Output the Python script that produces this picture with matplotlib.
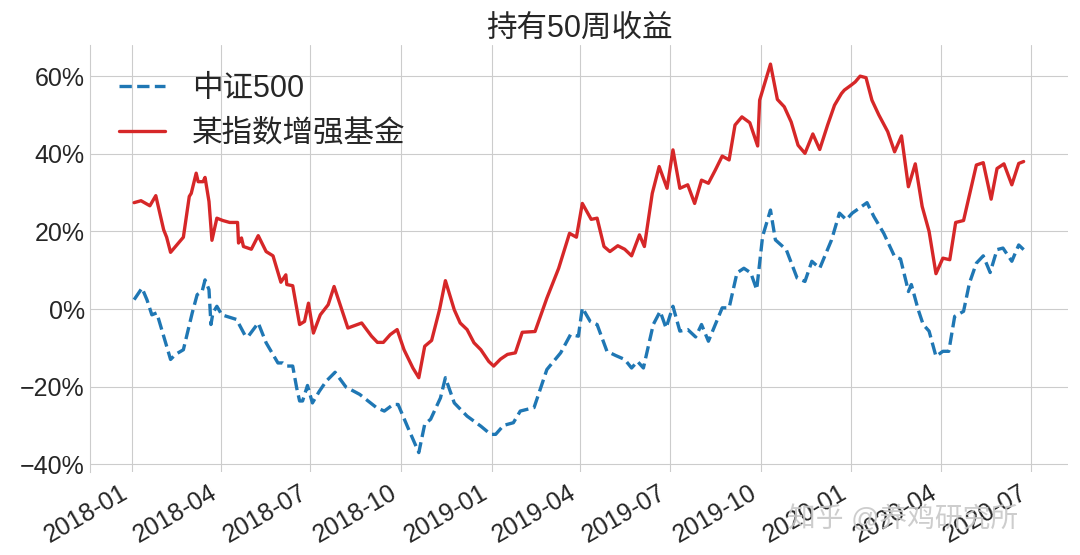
import matplotlib
matplotlib.use("Agg")
import matplotlib.pyplot as plt
import matplotlib.dates as mdates
from matplotlib.ticker import FuncFormatter
import pandas as pd
import seaborn as sns

sns.set_style("whitegrid")
plt.rcParams['font.family'] = ['Liberation Sans', 'Noto Sans CJK SC', 'DejaVu Sans']
plt.rcParams['axes.unicode_minus'] = True

start = pd.Timestamp("2018-01-01")

# 中证500 (days after 2018-01-01, 50-week return in %)
csi_days = [2, 10, 15, 20, 25, 39, 44, 52, 61, 66, 71, 74, 78, 80, 82, 86, 91, 106, 115, 118,
            128, 136, 148, 153, 157, 163, 167, 170, 173, 178, 183, 190, 197, 206, 217, 231,
            248, 256, 265, 270, 280, 291, 297, 303, 313, 318, 327, 340, 354, 364, 369, 377, 387, 394, 408, 421,
            435, 445, 453, 457, 465, 472,
            482, 491, 500, 507, 513, 519, 529, 536, 542, 549, 556, 564, 572, 578, 585, 599, 606, 614, 621, 628,
            634, 640, 648, 653, 664, 675, 683, 690, 698, 710, 718,
            725, 731, 746, 753, 763, 774, 780, 786, 788, 791, 798, 803, 809, 816, 823, 829, 835, 844, 850, 857,
            864, 871, 878, 884, 893, 900, 905]
csi_ret = [2.4, 5.4, 2.4, -1.5, -1.0, -13.0, -11.7, -10.5, -1.0, 3.7, 4.5, 7.5, 5.0, -4.0, -1.0, 0.7, -1.5, -2.7, -7.0, -7.0,
           -3.6, -8.7, -13.9, -13.9, -14.7, -14.7, -20.3, -23.7, -23.7, -19.7, -24.2, -21.2, -18.6, -16.3, -20.1, -22.0,
           -25.4, -26.3, -24.6, -24.6, -30.6, -37.0, -29.7, -28.4, -22.9, -17.7, -24.2, -27.6, -30.2, -32.3, -32.3, -30.0, -29.3, -26.3, -25.4, -15.6,
           -11.3, -6.6, -7.0, 0.3, -3.2, -4.0,
           -10.9, -12.0, -13.0, -15.2, -13.5, -15.2, -4.0, -0.6, -4.9, 0.7, -5.7, -5.3, -7.2, -4.0, -8.3, 0.3, 0.3, 9.3, 10.5, 9.3,
           5.0, 18.7, 25.5, 17.8, 15.3, 8.0, 7.1, 12.3, 10.5, 17.8, 24.7,
           23.0, 24.7, 27.4, 23.8, 19.5, 13.5, 12.9, 6.7, 4.5, 6.3, -0.2, -4.0, -5.7, -12.2, -10.9, -10.9, -1.9, -0.6, 6.7, 11.8,
           13.7, 9.4, 15.3, 15.7, 12.3, 16.5, 15.3]

# 某指数增强基金
fund_days = [2, 9, 18, 24, 32, 35, 39, 52, 58, 60, 65, 67, 72, 74, 78, 81, 86, 92, 99, 107,
             108, 111, 113, 121, 128, 136, 143, 151, 156, 157, 163, 170, 175, 179, 184, 191, 199, 205, 219, 233,
             243, 249, 255, 262, 269, 276, 285, 291, 297, 304, 312, 318, 327, 333, 340, 347, 354, 362, 367, 374,
             381, 389, 396, 409, 421, 433, 444, 451, 457, 466, 472, 479,
             485, 493, 500, 507, 515, 520, 528, 535, 543, 549, 556, 564, 571, 578, 585, 592, 599, 606, 612, 619,
             627, 635, 637, 648, 655, 662, 669, 676, 683, 691, 698, 706, 713, 720,
             723, 730, 734, 739, 745, 751, 758, 767, 774, 781, 788, 795, 802, 809, 816, 823, 830, 836, 844, 857,
             864, 872, 878, 885, 893, 900, 905]
fund_ret = [27.4, 27.9, 26.6, 29.2, 20.4, 18.5, 14.6, 18.5, 29.0, 29.8, 35.0, 32.8, 32.8, 33.9, 27.7, 17.7, 23.4, 22.8, 22.3, 22.3,
            17.0, 18.3, 16.1, 15.4, 18.9, 14.8, 13.7, 6.9, 8.8, 6.3, 6.0, -4.0, -3.2, 1.5, -6.2, -1.5, 1.1, 5.8, -4.9, -3.6,
            -7.0, -8.6, -8.6, -6.6, -5.3, -10.5, -15.2, -17.7, -9.6, -8.1, -0.2, 7.3, -0.2, -3.6, -5.3, -8.7, -10.5, -13.5, -14.7, -12.9,
            -11.7, -11.3, -6.0, -5.8, 2.8, 10.5, 19.5, 18.5, 27.2, 23.1, 23.4, 16.1,
            14.8, 16.3, 15.4, 13.7, 19.1, 16.1, 29.8, 36.7, 31.1, 41.0, 31.1, 32.0, 27.2, 33.2, 32.4, 35.8, 39.4, 38.4, 47.4, 49.5,
            48.0, 42.0, 53.8, 63.1, 54.0, 52.1, 48.2, 42.2, 40.1, 45.1, 41.1, 47.4, 52.5, 55.5,
            56.4, 57.7, 58.5, 60.0, 59.6, 53.8, 50.0, 45.7, 40.5, 44.6, 31.5, 37.4, 26.4, 20.0, 9.1, 13.1, 12.7, 22.3, 22.8, 37.1,
            37.7, 28.3, 36.2, 37.4, 32.0, 37.5, 38.0]

csi_dates = start + pd.to_timedelta(csi_days, unit="D")
fund_dates = start + pd.to_timedelta(fund_days, unit="D")

fig = plt.figure(figsize=(10.8, 5.55), dpi=100)
ax = fig.add_axes([0.083, 0.1495, 0.906, 0.77])

ax.plot(csi_dates, [v / 100 for v in csi_ret], color="#1f77b4", lw=2.4, ls="--", label="中证500")
ax.plot(fund_dates, [v / 100 for v in fund_ret], color="#d62728", lw=2.4, label="某指数增强基金")

ax.xaxis.set_major_locator(mdates.MonthLocator(bymonth=[1, 4, 7, 10]))
ax.xaxis.set_major_formatter(mdates.DateFormatter("%Y-%m"))
ax.yaxis.set_major_formatter(FuncFormatter(lambda v, p: "{:.0f}%".format(v * 100).replace("-", "\u2212")))
ax.set_yticks([-0.4, -0.2, 0, 0.2, 0.4, 0.6])

for lab in ax.get_xticklabels():
    lab.set_rotation(30)
    lab.set_ha("right")
ax.tick_params(axis="both", labelsize=18, colors=".15", length=0)
ax.tick_params(axis="x", pad=6)

for s in ["top", "right", "bottom"]:
    ax.spines[s].set_visible(False)
ax.spines["left"].set_color(".8")

ax.set_title("持有50周收益", fontsize=22, color=".15", pad=6)
ax.legend(loc="upper left", fontsize=22, frameon=False, handlelength=1.5, handletextpad=0.9,
          borderaxespad=0.55, labelspacing=0.5, bbox_to_anchor=(0.0, 1.0))

fig.text(0.73, 0.05, "知乎 @养鸡研究所", fontsize=20, color="#c8c8c8", alpha=0.9)

fig.savefig("out.png", dpi=100)
